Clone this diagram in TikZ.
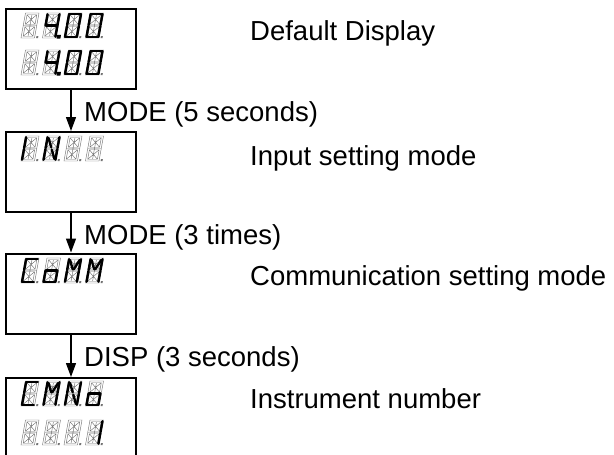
\documentclass[tikz,border=0pt]{standalone}
\usepackage{fontspec}
\setmainfont{Liberation Sans}
\usetikzlibrary{arrows.meta}

% segments of one display digit (unit cell, origin bottom left)
\def\segptop{(0.07,0.96) -- (0.93,0.96)}
\def\segpbot{(0.07,0.04) -- (0.93,0.04)}
\def\segpul{(0.06,0.95) -- (0.06,0.52)}
\def\segpll{(0.06,0.48) -- (0.06,0.05)}
\def\segpur{(0.94,0.95) -- (0.94,0.52)}
\def\segplr{(0.94,0.48) -- (0.94,0.05)}
\def\segpml{(0.07,0.5) -- (0.5,0.5)}
\def\segpmr{(0.5,0.5) -- (0.93,0.5)}
\def\segpdul{(0.14,0.92) -- (0.46,0.55)}
\def\segpdur{(0.86,0.92) -- (0.54,0.55)}
\def\segpdlr{(0.54,0.45) -- (0.86,0.08)}
\def\segpdp{(1.14,0.02) rectangle (1.24,0.08)}
\def\segpnone{(0,0)}

\tikzset{
  dispbox/.style={draw, line width=2pt, minimum width=130pt,
                  minimum height=80pt, inner sep=0pt},
  flow/.style={-{Triangle[length=14pt,width=10pt]}, line width=1.3pt},
  lbl/.style={anchor=base west, inner sep=0pt,
              font=\fontsize{27.5pt}{33pt}\selectfont},
  segoff/.style={draw=black!55, line width=0.45pt},
  segon/.style={draw=black, line width=2.4pt, line cap=round}
}

\newcommand\segdigit[3]{%
  \begin{scope}[shift={(#1,#2)}, x=13.5pt, y=25pt, xslant=0.18]
    \draw[segoff] (0,0) rectangle (1,1)
      (0.14,0.07) rectangle (0.86,0.45) (0.14,0.55) rectangle (0.86,0.93)
      (0,0.5) -- (1,0.5) (0.5,0.07) -- (0.5,0.93)
      (0.14,0.07) -- (0.86,0.45) (0.86,0.07) -- (0.14,0.45)
      (0.14,0.55) -- (0.86,0.93) (0.86,0.55) -- (0.14,0.93);
    \fill[black!55] (1.12,0) rectangle (1.26,0.08);
    \foreach \sg in {#3} {\draw[segon] \csname segp\sg\endcsname;}
  \end{scope}}

% four digits in a row, #1 = x, #2 = baseline y
\newcommand\segrow[6]{%
  \segdigit{#1}{#2}{#3}
  \segdigit{#1+21.5}{#2}{#4}
  \segdigit{#1+43}{#2}{#5}
  \segdigit{#1+64.5}{#2}{#6}}

\begin{document}
\begin{tikzpicture}[x=1pt, y=-1pt]
\useasboundingbox (0,0) rectangle (614,455);
\clip (0,0) rectangle (614,455);

% display boxes
\node[dispbox] (dflt) at (71,49)    {};
\node[dispbox] (inpt) at (71,172)   {};
\node[dispbox] (comm) at (71,293.5) {};
\node[dispbox] (inst) at (71,418)   {};

% digits
\segrow{21}{38}{none}{ul,ml,mr,ur,lr,dp}{top,bot,ul,ll,ur,lr}{top,bot,ul,ll,ur,lr}
\segrow{21}{75}{none}{ul,ml,mr,ur,lr,dp}{top,bot,ul,ll,ur,lr}{top,bot,ul,ll,ur,lr}
\segrow{21}{161}{ul,ll}{ul,ll,dul,dlr,ur,lr}{none}{none}
\segrow{21}{283}{top,ul,ll,bot}{ll,ml,mr,lr,bot}{ul,ll,ur,lr,dul,dur}{ul,ll,ur,lr,dul,dur}
\segrow{21}{406}{top,ul,ll,bot}{ul,ll,ur,lr,dul,dur}{ul,ll,dul,dlr,ur,lr}{ll,ml,mr,lr,bot}
\segrow{21}{445}{none}{none}{none}{ur,lr}

% transitions
\draw[flow] (dflt.south) -- (inpt.north);
\draw[flow] (inpt.south) -- (comm.north);
\draw[flow] (comm.south) -- (inst.north);

\node[lbl] (kMode) at (84,121) {MODE (5 seconds)};
\node[lbl] (kModeB) at (84,244) {MODE (3 times)};
\node[lbl] (kDisp) at (84,366) {DISP (3 seconds)};

% descriptions
\node[lbl] (tDflt) at (250,41)  {Default Display};
\node[lbl] (tInpt) at (250,165) {Input setting mode};
\node[lbl] (tComm) at (250,285) {Communication setting mode};
\node[lbl] (tInst) at (250,408) {Instrument number};

\end{tikzpicture}
\end{document}
